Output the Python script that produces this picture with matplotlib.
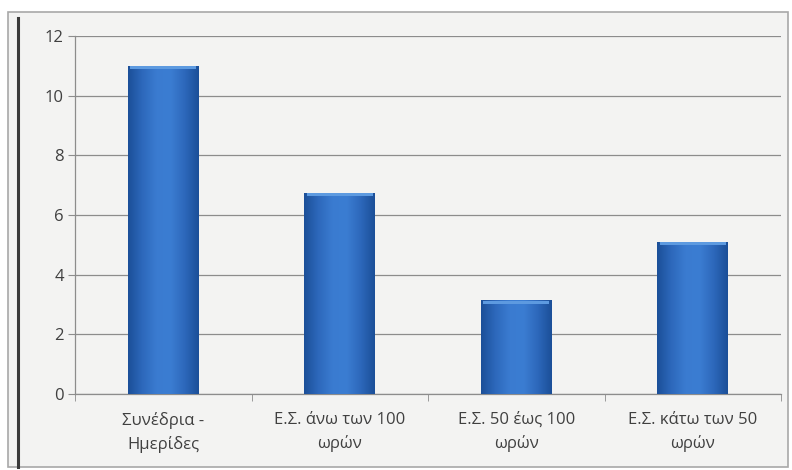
import matplotlib.pyplot as plt
from matplotlib.patches import Rectangle
from matplotlib.colors import LinearSegmentedColormap
import numpy as np

plt.rcParams['font.family'] = ['Open Sans', 'DejaVu Sans']

categories = ['Συνέδρια -\nΗμερίδες', 'Ε.Σ. άνω των 100\nωρών',
              'Ε.Σ. 50 έως 100\nωρών', 'Ε.Σ. κάτω των 50\nωρών']
values = [11, 6.75, 3.15, 5.1]
yticks = [0, 2, 4, 6, 8, 10, 12]

bg = '#f3f3f2'
fig = plt.figure(figsize=(7.92, 4.70), dpi=100, facecolor='white')

# chart frame with the darker left edge (kept behind the axes)
fig.patches.append(Rectangle((8 / 792, 3 / 470), 780 / 792, 455 / 470,
                             transform=fig.transFigure, facecolor=bg,
                             edgecolor='#a8a8a8', linewidth=1.2, zorder=-2))
fig.lines.append(plt.Line2D([18 / 792, 18 / 792], [3 / 470, 452 / 470],
                            transform=fig.transFigure, color='#3a3a3a',
                            linewidth=2.2, zorder=-1))

ax = fig.add_axes([75 / 792, 1 - 394 / 470, 706 / 792, 358 / 470])
ax.set_facecolor('none')

x = np.arange(len(values))
bars = ax.bar(x, values, width=0.4, color='#2f6cc0', zorder=3)

# horizontal shading across each bar, dark at the sides
cmap = LinearSegmentedColormap.from_list(
    'barshade', ['#1b4f98', '#2d68bb', '#3a7bd0', '#3b7dd2', '#2d68bb', '#1b4f98'])
grad = np.linspace(0, 1, 256).reshape(1, -1)
for b in bars:
    x0, w, h = b.get_x(), b.get_width(), b.get_height()
    im = ax.imshow(grad, cmap=cmap, aspect='auto', zorder=4,
                   extent=(x0, x0 + w, 0, h), interpolation='bicubic')
    im.set_clip_path(b)
    # bevel highlight on the top edge
    ax.add_patch(Rectangle((x0 + w * 0.03, h - 0.12), w * 0.94, 0.1,
                           facecolor='#5d9ae0', edgecolor='none', zorder=5))

ax.set_xlim(-0.5, len(values) - 0.5)
ax.set_ylim(0, 12)
ax.set_yticks(yticks)
ax.set_yticklabels([str(t) for t in yticks])
ax.yaxis.grid(True, color='#8c8c8c', linewidth=0.9, zorder=1)
ax.set_axisbelow(True)

ax.set_xticks(x)
ax.set_xticklabels(categories, linespacing=1.55)
ax.set_xticks(np.arange(len(values) + 1) - 0.5, minor=True)
ax.tick_params(axis='x', which='major', length=0, pad=13)
ax.tick_params(axis='x', which='minor', length=5, color='#8c8c8c')
ax.tick_params(axis='y', length=5, color='#8c8c8c', pad=3)
ax.tick_params(labelsize=12, labelcolor='#404040')

for side in ['top', 'right']:
    ax.spines[side].set_visible(False)
for side in ['left', 'bottom']:
    ax.spines[side].set_color('#8c8c8c')
    ax.spines[side].set_linewidth(0.9)

plt.savefig('out.png', dpi=100, facecolor='white')
